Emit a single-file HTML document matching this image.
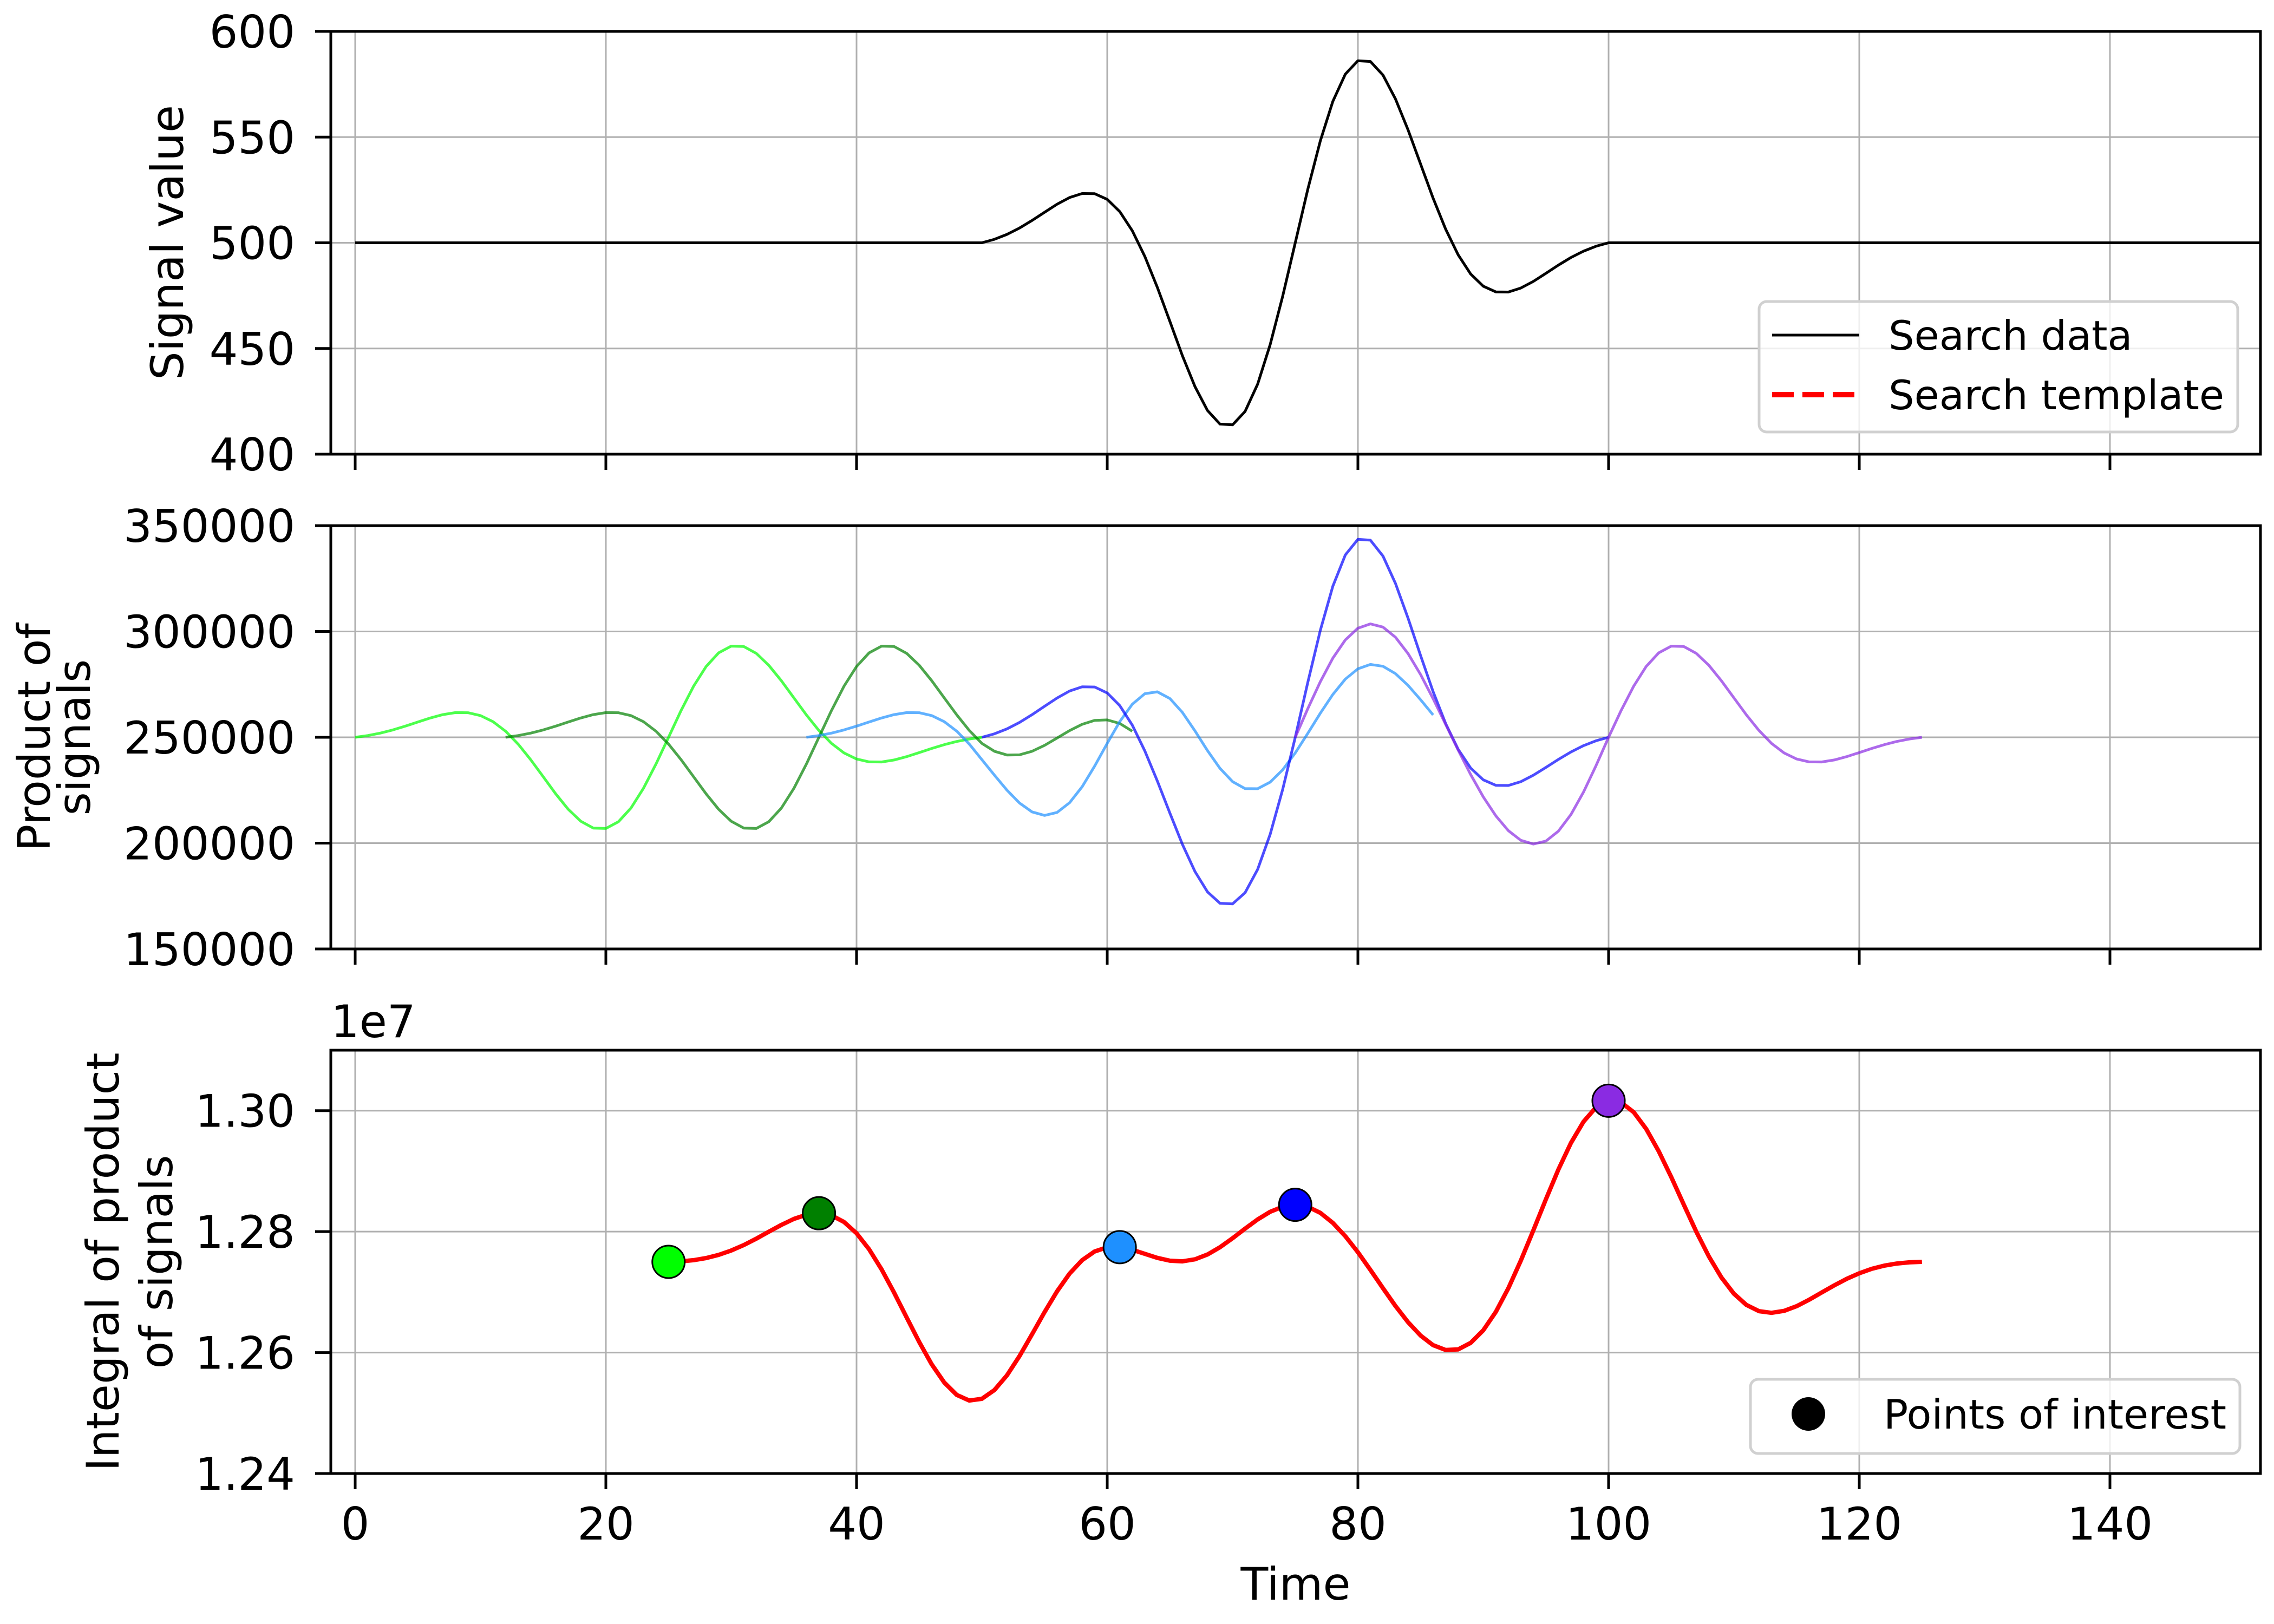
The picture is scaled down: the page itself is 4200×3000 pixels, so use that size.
<!DOCTYPE html>
<html><head><meta charset="utf-8">
<style>
html,body{margin:0;padding:0;background:#fff;}
svg{display:block;}
text{font-family:"DejaVu Sans","Liberation Sans",sans-serif;fill:#000;}
</style></head>
<body>
<svg id="s" xmlns="http://www.w3.org/2000/svg" width="4200" height="3000" viewBox="0 0 4200 3000">
<rect width="4200" height="3000" fill="#fff"/>
<defs>
<clipPath id="c1"><rect x="611" y="58" width="3564" height="781"/></clipPath>
<clipPath id="c2"><rect x="611" y="971" width="3564" height="782"/></clipPath>
<clipPath id="c3"><rect x="611" y="1940" width="3564" height="782"/></clipPath>
</defs>
<g id="g"></g>
</svg>
<script>
(function(){
var NS="http://www.w3.org/2000/svg";
var G=document.getElementById('g');
function el(tag,attrs,txt,parent){var e=document.createElementNS(NS,tag);for(var k in attrs)e.setAttribute(k,attrs[k]);if(txt!=null)e.textContent=txt;(parent||G).appendChild(e);return e;}
var L=611,R=4175;
function X(t){return 656+23.15*t;}
var axes=[
 {top:58,bot:839,y0:400,y1:600,ticks:[400,450,500,550,600],lab:function(v){return ''+v;},clip:'c1'},
 {top:971,bot:1753,y0:150000,y1:350000,ticks:[150000,200000,250000,300000,350000],lab:function(v){return ''+v;},clip:'c2'},
 {top:1940,bot:2722,y0:1.24,y1:1.31,ticks:[1.24,1.26,1.28,1.30],lab:function(v){return v.toFixed(2);},clip:'c3'}
];
axes.forEach(function(a){a.Y=function(v){return a.bot-(v-a.y0)/(a.y1-a.y0)*(a.bot-a.top);};});
axes.forEach(function(a,i){
 for(var t=0;t<=140;t+=20){el('line',{x1:X(t),x2:X(t),y1:a.top,y2:a.bot,stroke:'#b0b0b0','stroke-width':3});}
 a.ticks.forEach(function(v){var y=a.Y(v);el('line',{x1:L,x2:R,y1:y,y2:y,stroke:'#b0b0b0','stroke-width':3});});
});
function f(t){if(t<50||t>100)return 0;var d=t-75;var w=Math.exp(-d*d/210);return 102*w*Math.sin(2*Math.PI*d/25);}
function data(t){return 500+f(t);}
function tmpl(t,c){if(t<c-25||t>c+25)return null;return 500+f(t-c+75);}
function path(pts){return pts.map(function(p,i){return (i?'L':'M')+p[0].toFixed(1)+' '+p[1].toFixed(1);}).join(' ');}
var pts=[];for(var t=0;t<=152;t++)pts.push([X(t),axes[0].Y(data(t))]);
el('path',{d:path(pts),fill:'none',stroke:'#000','stroke-width':5,'stroke-linejoin':'round','clip-path':'url(#c1)'});
var cs=[25,37,61,75,100];
var lc=['#00ff00','#008000','#1e90ff','#0000ff','#8a2be2'];
cs.forEach(function(c,i){
 var p=[];for(var t=c-25;t<=c+25;t++)p.push([X(t),axes[1].Y(data(t)*tmpl(t,c))]);
 el('path',{d:path(p),fill:'none',stroke:lc[i],'stroke-opacity':0.7,'stroke-width':5,'stroke-linejoin':'round','clip-path':'url(#c2)'});
});
function corr(c){var s=0;for(var t=c-25;t<=c+25;t++)s+=data(t)*tmpl(t,c);return s/1e7;}
var p3=[];for(var c=25;c<=125;c++)p3.push([X(c),axes[2].Y(corr(c))]);
el('path',{d:path(p3),fill:'none',stroke:'#ff0000','stroke-width':8,'stroke-linejoin':'round','clip-path':'url(#c3)'});
cs.forEach(function(c,i){el('circle',{cx:X(c),cy:axes[2].Y(corr(c)),r:30,fill:lc[i],stroke:'#000','stroke-width':3});});
axes.forEach(function(a,i){
 el('rect',{x:L,y:a.top,width:R-L,height:a.bot-a.top,fill:'none',stroke:'#000','stroke-width':5});
 for(var t=0;t<=140;t+=20){el('line',{x1:X(t),x2:X(t),y1:a.bot,y2:a.bot+29,stroke:'#000','stroke-width':5});}
 a.ticks.forEach(function(v){var y=a.Y(v);el('line',{x1:L-29,x2:L,y1:y,y2:y,stroke:'#000','stroke-width':5});
  el('text',{x:545,y:y+30,'text-anchor':'end','font-size':83},a.lab(v));});
});
for(var t=0;t<=140;t+=20){el('text',{x:X(t),y:2844,'text-anchor':'middle','font-size':83},''+t);}
el('text',{x:2393,y:2955,'text-anchor':'middle','font-size':83},'Time');
el('text',{x:611,y:1916,'font-size':83},'1e7');
el('text',{x:0,y:0,'text-anchor':'middle','font-size':83,transform:'translate(338,448) rotate(-90)'},'Signal value');
el('text',{x:0,y:0,'text-anchor':'middle','font-size':83,transform:'translate(92,1362) rotate(-90)'},'Product of');
el('text',{x:0,y:0,'text-anchor':'middle','font-size':83,transform:'translate(166,1362) rotate(-90)'},'signals');
el('text',{x:0,y:0,'text-anchor':'middle','font-size':83,transform:'translate(219,2331) rotate(-90)'},'Integral of product');
el('text',{x:0,y:0,'text-anchor':'middle','font-size':83,transform:'translate(318,2331) rotate(-90)'},'of signals');
el('rect',{x:3249,y:557,width:884,height:241,rx:14,fill:'#fff','fill-opacity':0.8,stroke:'#d0d0d0','stroke-width':5});
el('line',{x1:3273,x2:3434,y1:619,y2:619,stroke:'#000','stroke-width':5});
el('text',{x:3488,y:646,'font-size':75},'Search data');
el('line',{x1:3273,x2:3434,y1:729,y2:729,stroke:'#ff0000','stroke-width':10,'stroke-dasharray':'40 16'});
el('text',{x:3488,y:756,'font-size':75},'Search template');
el('rect',{x:3233,y:2548,width:904,height:137,rx:14,fill:'#fff','fill-opacity':0.8,stroke:'#d0d0d0','stroke-width':5});
el('circle',{cx:3340,cy:2612,r:31,fill:'#000'});
el('text',{x:3479,y:2639,'font-size':75},'Points of interest');
})();
</script>
</body></html>
